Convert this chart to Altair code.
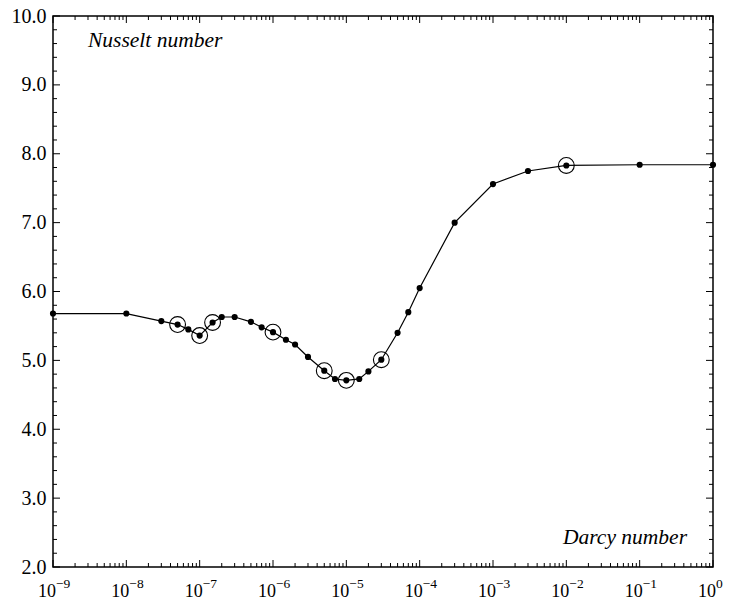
import altair as alt
import pandas as pd

darcy = [1e-9, 1e-8, 3e-8, 5e-8, 7e-8, 1e-7, 1.5e-7, 2e-7, 3e-7, 5e-7, 7e-7,
         1e-6, 1.5e-6, 2e-6, 3e-6, 5e-6, 7e-6, 1e-5, 1.5e-5, 2e-5, 3e-5,
         5e-5, 7e-5, 1e-4, 3e-4, 1e-3, 3e-3, 1e-2, 1e-1, 1.0]
nusselt = [5.68, 5.68, 5.57, 5.52, 5.45, 5.36, 5.55, 5.63, 5.63, 5.56, 5.48,
           5.41, 5.30, 5.23, 5.05, 4.85, 4.73, 4.71, 4.73, 4.84, 5.01,
           5.40, 5.70, 6.05, 7.00, 7.56, 7.75, 7.83, 7.84, 7.84]
circled = [5e-8, 1e-7, 1.5e-7, 1e-6, 5e-6, 1e-5, 3e-5, 1e-2]

x_major = [10.0 ** e for e in range(-9, 1)]
x_exp = ["\u2212" + str(-e) if e < 0 else str(e) for e in range(-9, 1)]
x_minor = [k * 10.0 ** e for e in range(-9, 0) for k in range(2, 10)]
y_major = [2.0, 3.0, 4.0, 5.0, 6.0, 7.0, 8.0, 9.0, 10.0]
y_minor = [round(2.0 + 0.2 * i, 1) for i in range(41) if i % 5 != 0]

W, H = 660, 551
FONT = "Liberation Serif"

df = pd.DataFrame({"Da": darcy, "Nu": nusselt})
dfc = pd.DataFrame({"Da": circled,
                    "Nu": [nusselt[darcy.index(c)] for c in circled]})
dxm = pd.DataFrame({"Da": x_major, "exp": x_exp})
dxn = pd.DataFrame({"Da": x_minor})
dym = pd.DataFrame({"Nu": y_major})
dyn = pd.DataFrame({"Nu": y_minor})

xs = alt.Scale(type="log", domain=[1e-9, 1], nice=False)
ys = alt.Scale(domain=[2, 10], nice=False, zero=False)

X = alt.X("Da:Q", scale=xs, axis=None)
Y = alt.Y("Nu:Q", scale=ys,
          axis=alt.Axis(values=y_major, format=".1f", domain=False, ticks=False,
                        grid=False, labelFont=FONT, labelFontSize=20,
                        labelColor="black", labelPadding=7, title=None))

line = alt.Chart(df).mark_line(color="black", strokeWidth=1.2).encode(x=X, y=Y)
dots = alt.Chart(df).mark_circle(color="black", size=38, opacity=1).encode(x=X, y=Y)
rings = alt.Chart(dfc).mark_point(shape="circle", filled=False, color="black",
                                  size=250, strokeWidth=1.1, opacity=1).encode(x=X, y=Y)

def vticks(data, length):
    bot = alt.Chart(data).mark_rule(color="black", strokeWidth=1).encode(
        x=X, y=alt.value(H), y2=alt.value(H - length))
    top = alt.Chart(data).mark_rule(color="black", strokeWidth=1).encode(
        x=X, y=alt.value(0), y2=alt.value(length))
    return bot + top

def hticks(data, length):
    lef = alt.Chart(data).mark_rule(color="black", strokeWidth=1).encode(
        y=Y, x=alt.value(0), x2=alt.value(length))
    rig = alt.Chart(data).mark_rule(color="black", strokeWidth=1).encode(
        y=Y, x=alt.value(W), x2=alt.value(W - length))
    return lef + rig

ticks = vticks(dxm, 7) + vticks(dxn, 4) + hticks(dym, 7) + hticks(dyn, 4)

base_lbl = alt.Chart(dxm).mark_text(font=FONT, fontSize=18, align="right",
                                    baseline="alphabetic", dx=3, color="black").encode(
    x=X, y=alt.value(H + 30), text=alt.value("10"))
exp_lbl = alt.Chart(dxm).mark_text(font=FONT, fontSize=13.5, align="left",
                                   baseline="alphabetic", dx=3, color="black").encode(
    x=X, y=alt.value(H + 21), text="exp:N")

titles = pd.DataFrame({"t": ["Nusselt number"]})
nus = alt.Chart(titles).mark_text(font=FONT, fontSize=21.5, fontStyle="italic",
                                  align="left", baseline="alphabetic", color="black").encode(
    x=alt.value(35), y=alt.value(31), text="t:N")
titles2 = pd.DataFrame({"t": ["Darcy number"]})
dar = alt.Chart(titles2).mark_text(font=FONT, fontSize=21.5, fontStyle="italic",
                                   align="right", baseline="alphabetic", color="black").encode(
    x=alt.value(W - 26), y=alt.value(H - 23), text="t:N")

chart = alt.layer(line, ticks, dots, rings, base_lbl, exp_lbl, nus, dar).properties(
    width=W, height=H,
    background="white",
    autosize=alt.AutoSizeParams(type="none"),
    padding={"left": 53, "top": 16, "right": 21, "bottom": 33},
).configure_view(stroke="black", strokeWidth=1.5)

chart.save("out.html", embed_options={"renderer": "svg", "actions": False})
